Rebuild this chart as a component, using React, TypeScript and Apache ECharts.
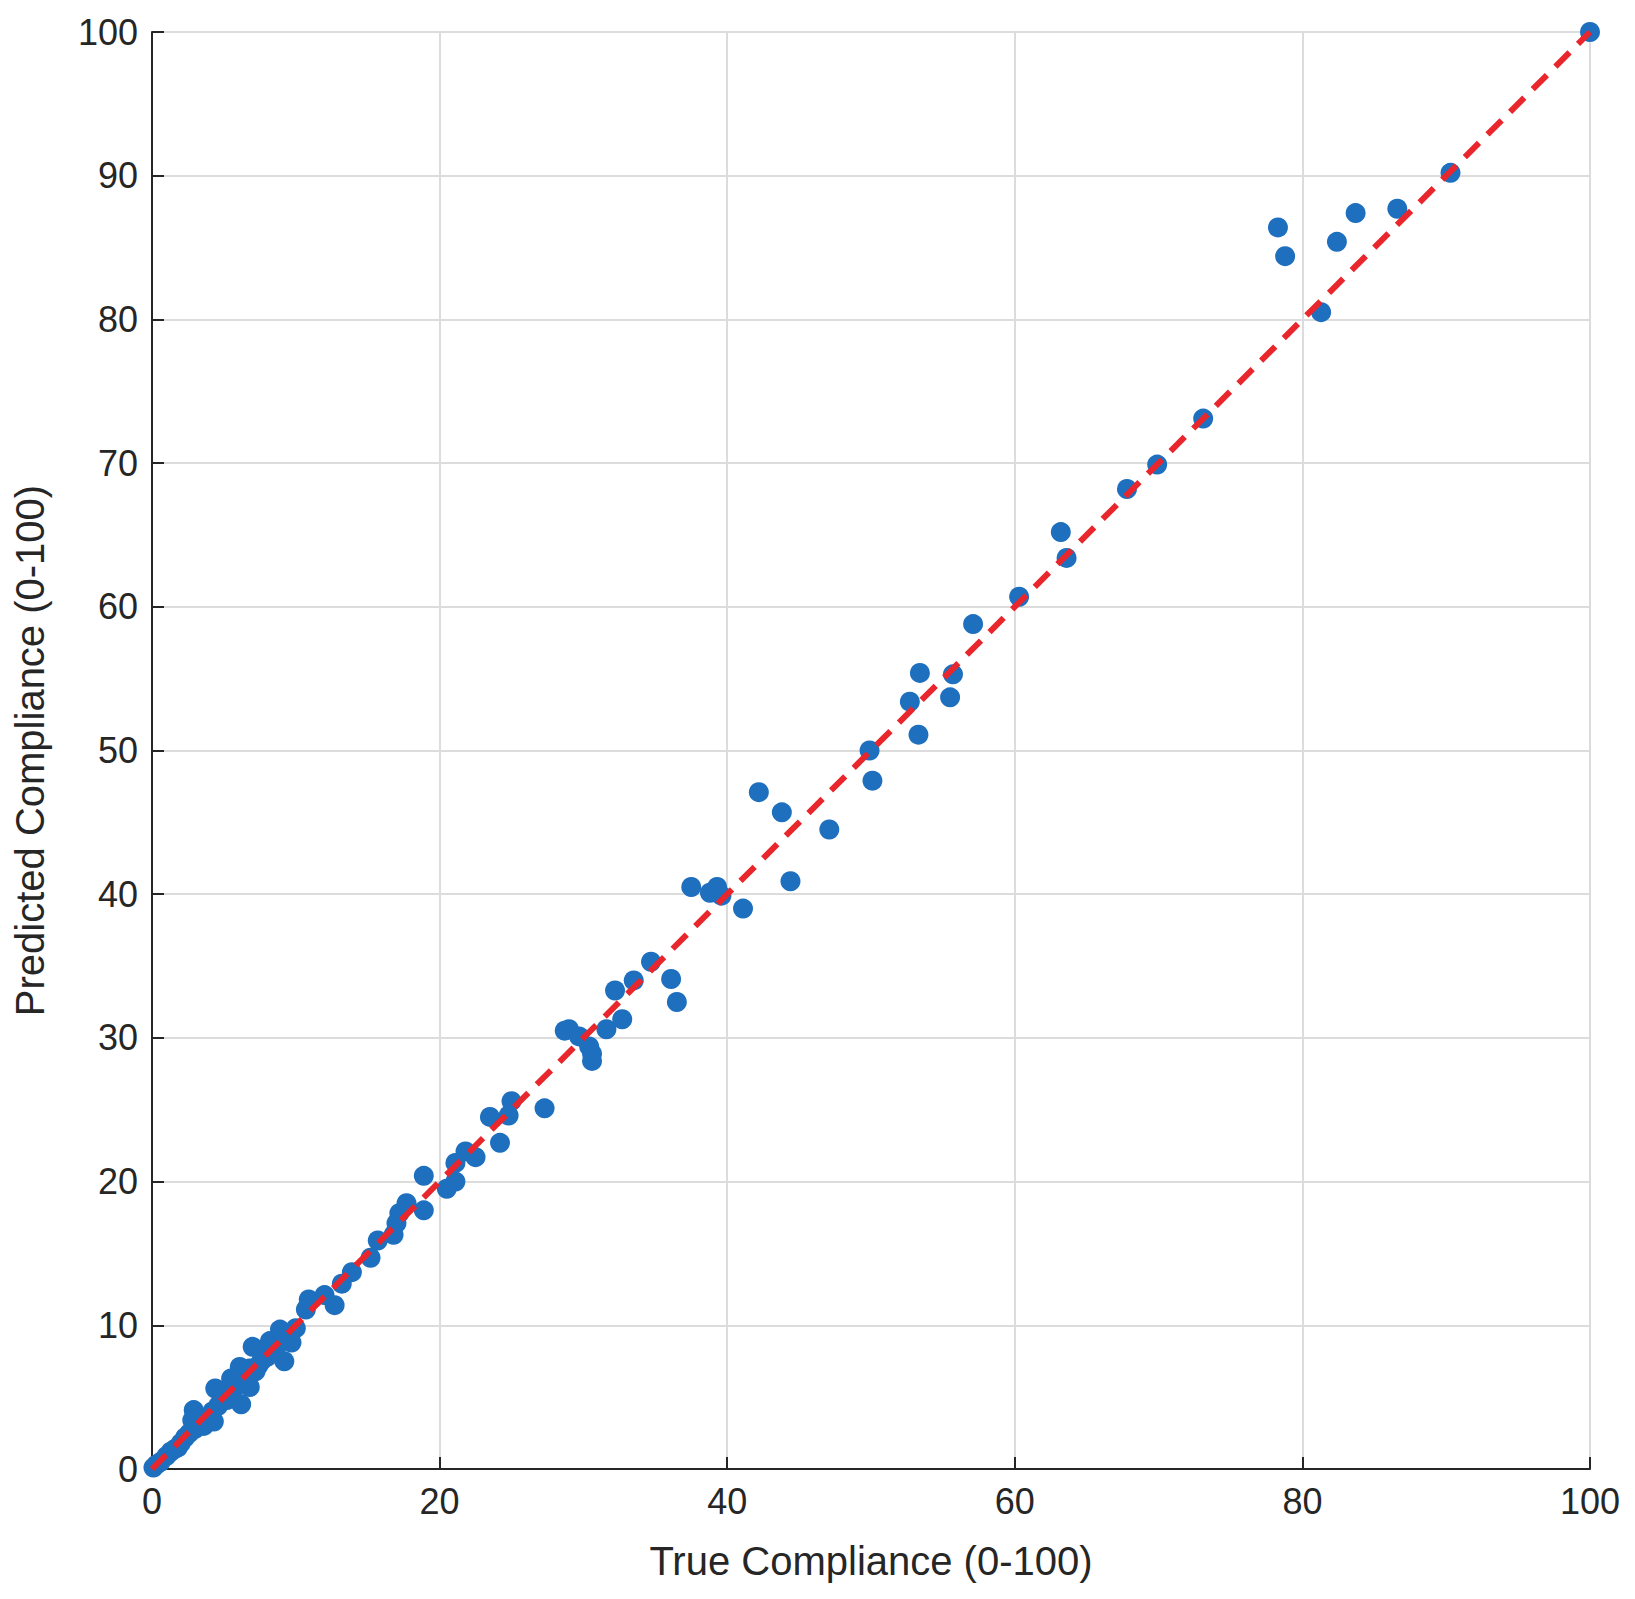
import { useEffect, useRef } from 'react'
import * as echarts from 'echarts'

// true / predicted compliance pairs
const trueVals = [
  100, 90.3, 86.6, 83.7, 82.4, 81.3, 78.3, 78.8, 73.1, 69.9, 67.8, 63.2, 63.6, 60.3, 57.1,
  53.4, 55.7, 52.7, 55.5, 53.3, 49.9, 50.1, 42.2, 43.8, 47.1, 44.4, 37.5, 38.8, 39.3, 39.6,
  41.1, 34.7, 33.5, 32.2, 36.1, 36.5, 32.7, 31.6, 28.7, 29.0, 29.7, 30.4, 30.6, 30.6, 27.3,
  25.0, 24.8, 23.5, 24.2, 22.5, 21.8, 21.1, 21.1, 20.5, 18.9, 18.9, 17.7, 17.2, 17.0, 16.8,
  15.7, 15.2, 13.9, 13.2, 12.7, 12.0, 10.9, 10.7, 9.7, 9.2, 8.9, 8.2, 7.7, 7.0, 7.4,
  6.8, 6.2, 6.1, 5.5, 4.4, 4.3, 2.9, 5.0,
  0.1, 0.3, 0.6, 1.0, 1.3, 1.6, 2.0, 2.3, 2.6, 3.0, 3.4, 3.8, 4.2, 4.6, 5.2, 5.6, 6.0, 6.4,
  6.8, 7.2, 7.6, 8.0, 8.6, 9.5, 10.0, 3.6, 2.8, 1.8,
]
const predVals = [
  100, 90.2, 87.7, 87.4, 85.4, 80.5, 86.4, 84.4, 73.1, 69.9, 68.2, 65.2, 63.4, 60.7, 58.8,
  55.4, 55.3, 53.4, 53.7, 51.1, 50.0, 47.9, 47.1, 45.7, 44.5, 40.9, 40.5, 40.1, 40.5, 39.9,
  39.0, 35.3, 34.0, 33.3, 34.1, 32.5, 31.3, 30.6, 30.5, 30.6, 30.1, 29.4, 28.9, 28.4, 25.1,
  25.6, 24.6, 24.5, 22.7, 21.7, 22.1, 21.3, 20.0, 19.5, 20.4, 18.0, 18.5, 17.8, 17.1, 16.3,
  15.9, 14.7, 13.7, 12.9, 11.4, 12.1, 11.8, 11.1, 8.8, 7.5, 9.7, 8.9, 8.1, 8.5, 7.2,
  5.7, 4.5, 7.1, 6.3, 5.6, 3.3, 4.1, 5.2,
  0.1, 0.3, 0.5, 0.9, 1.2, 1.4, 1.8, 2.2, 2.5, 2.8, 3.2, 3.6, 4.0, 4.4, 4.8, 5.3, 5.9, 6.6,
  7.0, 6.8, 7.5, 7.8, 8.3, 9.2, 9.8, 3.0, 3.4, 1.5,
]
const identityLine = [[0, 0], [100, 100]]

export default function App() {
  const ref = useRef<HTMLDivElement>(null)

  useEffect(() => {
    document.body.style.margin = '0'
    if (!ref.current) return
    const chart = echarts.init(ref.current, undefined, { renderer: 'svg' })
    const font = 'Liberation Sans, Arial, sans-serif'

    const axisCommon = {
      min: 0,
      max: 100,
      interval: 20,
      axisLine: { show: true, lineStyle: { color: '#262626', width: 2 } },
      axisTick: { show: true, inside: true, length: 12, lineStyle: { color: '#262626', width: 2 } },
      splitLine: { show: true, lineStyle: { color: '#dcdcdc', width: 2 } },
      axisLabel: { color: '#262626', fontSize: 36, fontFamily: font, margin: 14 },
      nameLocation: 'middle' as const,
      nameTextStyle: { color: '#262626', fontSize: 40, fontFamily: font },
    }

    chart.setOption({
      animation: false,
      backgroundColor: '#fff',
      grid: { left: 152, right: 45, top: 32, bottom: 130 },
      xAxis: { ...axisCommon, type: 'value', name: 'True Compliance (0-100)', nameGap: 72 },
      yAxis: {
        ...axisCommon,
        type: 'value',
        interval: 10,
        name: 'Predicted Compliance (0-100)',
        nameGap: 102,
      },
      series: [
        {
          type: 'scatter',
          data: trueVals.map((v, i) => [v, predVals[i]]),
          symbolSize: 20,
          itemStyle: { color: '#1f6fbf', opacity: 1 },
          z: 2,
        },
        {
          type: 'line',
          data: identityLine,
          symbol: 'none',
          lineStyle: { color: '#e8262b', width: 6, type: [20, 12] },
          z: 3,
        },
      ],
    })

    return () => chart.dispose()
  }, [])

  return <div ref={ref} style={{ width: 1635, height: 1599 }} />
}
